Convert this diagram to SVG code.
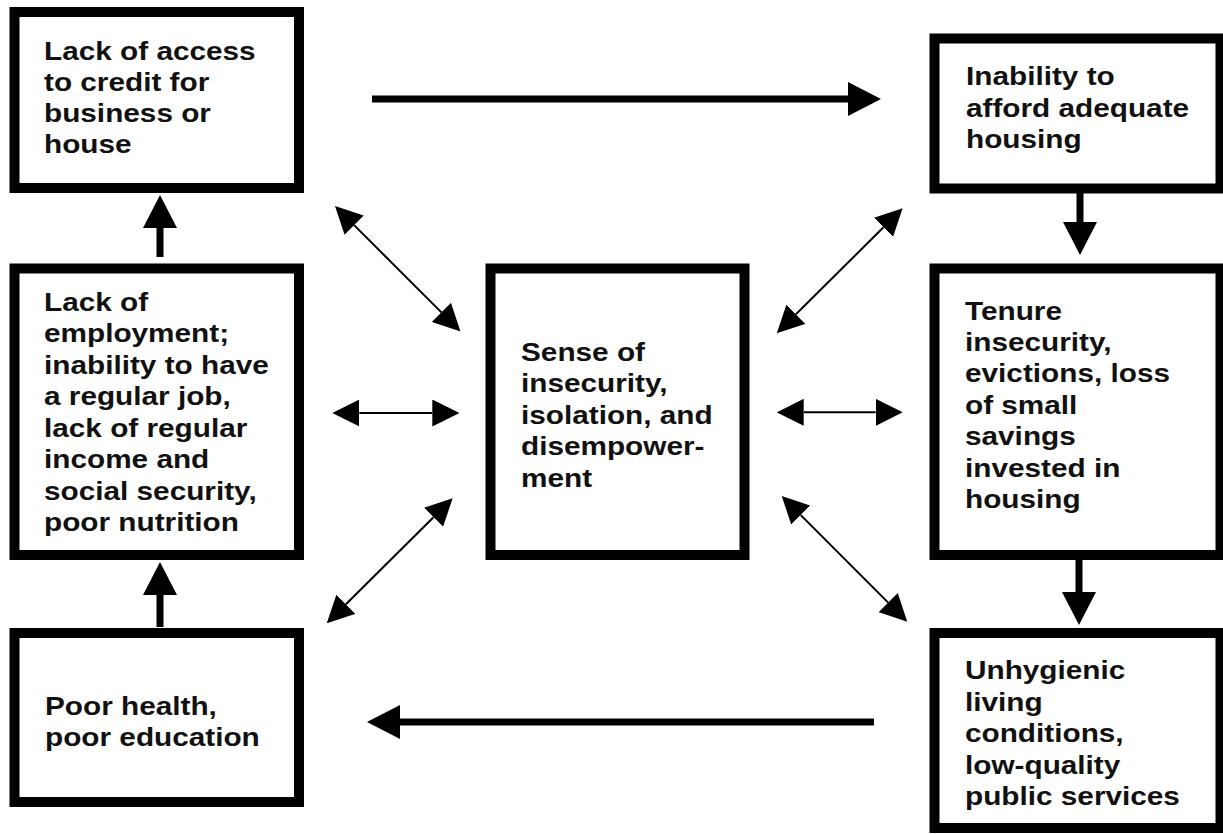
<svg xmlns="http://www.w3.org/2000/svg" width="1223" height="834" viewBox="0 0 1223 834">
<style>
.box{fill:#fff;stroke:#000;stroke-width:10}
.t{font-family:"Liberation Sans",Arial,Helvetica,sans-serif;font-weight:bold;font-size:25px;fill:#111}
.thick{stroke:#000;stroke-width:7;fill:none}
.thin{stroke:#000;stroke-width:2;fill:none}
</style>
<defs>
<marker id="big" viewBox="0 0 33 34" refX="0" refY="17" markerWidth="33" markerHeight="34" markerUnits="userSpaceOnUse" orient="auto">
<path d="M0,0 L33,17 L0,34 z" fill="#000"/>
</marker>
<marker id="small" viewBox="0 0 27 27" refX="0" refY="13.5" markerWidth="27" markerHeight="27" markerUnits="userSpaceOnUse" orient="auto-start-reverse">
<path d="M0,0 L27,13.5 L0,27 z" fill="#000"/>
</marker>
</defs>
<rect width="1223" height="834" fill="#fff"/>
<g id="connectors">
<line class="thick" x1="372" y1="99" x2="848" y2="99" marker-end="url(#big)"/>
<line class="thick" x1="160" y1="257" x2="160" y2="228" marker-end="url(#big)"/>
<line class="thick" x1="160" y1="627" x2="160" y2="595" marker-end="url(#big)"/>
<line class="thick" x1="1080" y1="193" x2="1080" y2="222" marker-end="url(#big)"/>
<line class="thick" x1="1079" y1="560" x2="1079" y2="592" marker-end="url(#big)"/>
<line class="thick" x1="874" y1="722" x2="400" y2="722" marker-end="url(#big)"/>
<line class="thin" x1="354.1" y1="225.1" x2="441.4" y2="312.4" marker-start="url(#small)" marker-end="url(#small)"/>
<line class="thin" x1="359.3" y1="413" x2="432.3" y2="413" marker-start="url(#small)" marker-end="url(#small)"/>
<line class="thin" x1="345.9" y1="604.3" x2="433.5" y2="517.3" marker-start="url(#small)" marker-end="url(#small)"/>
<line class="thin" x1="795.9" y1="314.3" x2="883.5" y2="227.3" marker-start="url(#small)" marker-end="url(#small)"/>
<line class="thin" x1="803.7" y1="412.3" x2="875.7" y2="412.3" marker-start="url(#small)" marker-end="url(#small)"/>
<line class="thin" x1="800.8" y1="515.1" x2="888.2" y2="602.6" marker-start="url(#small)" marker-end="url(#small)"/>
</g>
<g id="credit">
<rect class="box" x="14.5" y="12" width="284.5" height="176"/>
<text class="t" transform="translate(44,0) scale(1.19,1)"><tspan x="0" y="60">Lack of access</tspan><tspan x="0" y="91.5">to credit for</tspan><tspan x="0" y="122.5">business or</tspan><tspan x="0" y="153.5">house</tspan></text>
</g>
<g id="afford">
<rect class="box" x="934.5" y="38.5" width="286" height="150"/>
<text class="t" transform="translate(966,0) scale(1.19,1)"><tspan x="0" y="85">Inability to</tspan><tspan x="0" y="117">afford adequate</tspan><tspan x="0" y="148.5">housing</tspan></text>
</g>
<g id="employment">
<rect class="box" x="14.5" y="268.5" width="284.5" height="286.5"/>
<text class="t" transform="translate(44,0) scale(1.19,1)"><tspan x="0" y="311">Lack of</tspan><tspan x="0" y="342.5">employment;</tspan><tspan x="0" y="374">inability to have</tspan><tspan x="0" y="405.5">a regular job,</tspan><tspan x="0" y="437">lack of regular</tspan><tspan x="0" y="468.5">income and</tspan><tspan x="0" y="500">social security,</tspan><tspan x="0" y="531.5">poor nutrition</tspan></text>
</g>
<g id="insecurity">
<rect class="box" x="490.5" y="268.5" width="254" height="286.5"/>
<text class="t" transform="translate(521,0) scale(1.19,1)"><tspan x="0" y="361">Sense of</tspan><tspan x="0" y="392.5">insecurity,</tspan><tspan x="0" y="424">isolation, and</tspan><tspan x="0" y="455.5">disempower-</tspan><tspan x="0" y="487">ment</tspan></text>
</g>
<g id="tenure">
<rect class="box" x="934.5" y="268.5" width="286" height="286.5"/>
<text class="t" transform="translate(965,0) scale(1.19,1)"><tspan x="0" y="320">Tenure</tspan><tspan x="0" y="351">insecurity,</tspan><tspan x="0" y="382.5">evictions, loss</tspan><tspan x="0" y="414">of small</tspan><tspan x="0" y="445.5">savings</tspan><tspan x="0" y="477">invested in</tspan><tspan x="0" y="508.5">housing</tspan></text>
</g>
<g id="health">
<rect class="box" x="14.5" y="633" width="284.5" height="169"/>
<text class="t" transform="translate(45,0) scale(1.19,1)"><tspan x="0" y="715">Poor health,</tspan><tspan x="0" y="746">poor education</tspan></text>
</g>
<g id="unhygienic">
<rect class="box" x="934.5" y="633" width="286" height="195"/>
<text class="t" transform="translate(965,0) scale(1.19,1)"><tspan x="0" y="679">Unhygienic</tspan><tspan x="0" y="711">living</tspan><tspan x="0" y="742.5">conditions,</tspan><tspan x="0" y="774">low-quality</tspan><tspan x="0" y="805.5">public services</tspan></text>
</g>
</svg>
